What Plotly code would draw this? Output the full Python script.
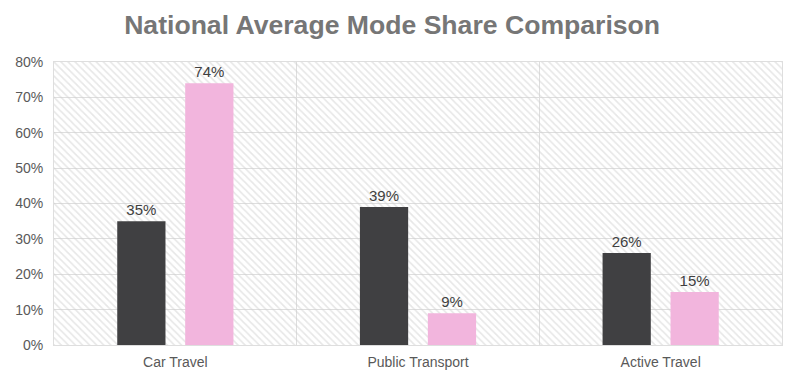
import plotly.graph_objects as go

categories = ["Car Travel", "Public Transport", "Active Travel"]
series_a = [35, 39, 26]
series_b = [74, 9, 15]
y_ticks = [0, 10, 20, 30, 40, 50, 60, 70, 80]
y_tick_labels = [f"{v}%" for v in y_ticks]

DARK = "#404042"
PINK = "#F2B5DD"
TXT = "#595959"

fig = go.Figure()

# hatched plot-area background on a hidden numeric axis
fig.add_trace(go.Bar(
    x=[0.5], y=[max(y_ticks)], width=[1], xaxis="x", yaxis="y",
    marker=dict(color="rgba(0,0,0,0)", line=dict(width=0),
                pattern=dict(shape="\\", fgcolor="#cfcfcf", bgcolor="rgba(255,255,255,0)",
                             size=5, solidity=0.33)),
    hoverinfo="skip", showlegend=False,
))

fig.add_trace(go.Bar(
    x=categories, y=series_a, xaxis="x2", yaxis="y",
    marker=dict(color=DARK, line=dict(width=14, color="rgba(0,0,0,0)")),
    text=[f"{v}%" for v in series_a], textposition="outside",
    textfont=dict(size=15, color="#404040"), cliponaxis=False, showlegend=False,
))
fig.add_trace(go.Bar(
    x=categories, y=series_b, xaxis="x2", yaxis="y",
    marker=dict(color=PINK, line=dict(width=14, color="rgba(0,0,0,0)")),
    text=[f"{v}%" for v in series_b], textposition="outside",
    textfont=dict(size=15, color="#404040"), cliponaxis=False, showlegend=False,
))

fig.update_layout(
    width=792, height=379,
    margin=dict(l=46, r=18, t=54, b=42, autoexpand=False),
    paper_bgcolor="white", plot_bgcolor="white",
    font=dict(family="Liberation Sans, Arial, sans-serif", color=TXT),
    title=dict(text="<b>National Average Mode Share Comparison</b>", x=0.485, xanchor="center",
               y=0.955, yanchor="middle",
               font=dict(size=26.6, color="#767676")),
    barmode="group", bargap=0.44, bargroupgap=0.29,
    xaxis=dict(range=[0, 1], visible=False, showgrid=False, fixedrange=True, automargin=False),
    xaxis2=dict(overlaying="x", type="category", tickson="boundaries", showgrid=True,
                gridcolor="#dedede", gridwidth=1, ticks="", showline=True, mirror=True,
                linecolor="#dedede", tickfont=dict(size=14, color=TXT), side="bottom",
                automargin=False, ticklabelstandoff=4),
    yaxis=dict(range=[0, 80], tickvals=y_ticks, ticktext=y_tick_labels, showgrid=True,
               gridcolor="#dedede", gridwidth=1, zeroline=False, showline=True, mirror=True,
               linecolor="#dedede", tickfont=dict(size=14, color=TXT), ticks="",
               automargin=False, ticklabelstandoff=7),
)

fig.write_html("out.html")
